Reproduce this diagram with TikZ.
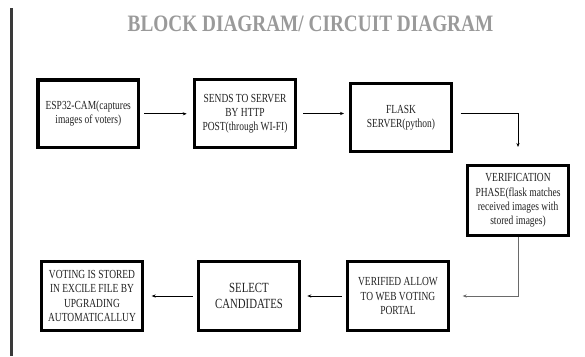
\documentclass[tikz,border=0pt]{standalone}
\usepackage{fontspec}
\setmainfont{Liberation Serif}[FakeStretch=0.77]
\newfontfamily\titlefont{Liberation Serif}[FakeStretch=0.82]
\usetikzlibrary{arrows.meta}
\definecolor{titlegray}{HTML}{9A9A9A}
\definecolor{bargray}{HTML}{3A3A3A}
\definecolor{txt}{HTML}{222222}
\definecolor{linkgray}{HTML}{6A6A6A}
\tikzset{
  blockbox/.style={draw=black, line width=3.3pt, fill=white, minimum width=100.7pt,
    minimum height=67.7pt, inner sep=1pt, align=center, text=txt,
    font=\fontsize{12.3}{14.2}\selectfont},
  arr/.style={line width=0.9pt, -{Stealth[length=4pt,width=3.2pt]}},
}
\begin{document}
\begin{tikzpicture}[x=1pt,y=-1pt]
\useasboundingbox (0,0) rectangle (585,356);
\fill[white] (0,0) rectangle (585,356);
% left bar
\draw[line width=2.5pt, bargray] (11.7,8) -- (11.7,356);
% title
\node[text=titlegray, font=\titlefont\bfseries\fontsize{23.5}{25}\selectfont, inner sep=0pt] (title) at (310.5,23.5) {BLOCK DIAGRAM/ CIRCUIT DIAGRAM};
% boxes
\node[blockbox] (b1) at (88.3,113.8) {ESP32-CAM(captures\\images of voters)};
\node[blockbox] (b2) at (245,113.5) {SENDS TO SERVER\\BY HTTP\\POST(through WI-FI)};
\node[blockbox] (b3) at (401,117.5) {FLASK\\SERVER(python)};
\node[blockbox, minimum height=69.7pt] (b4) at (518,200.5) {VERIFICATION\\PHASE(flask matches\\received images with\\stored images)};
\node[blockbox, minimum height=68.7pt] (b5) at (398,296) {VERIFIED ALLOW\\TO WEB VOTING\\PORTAL};
\node[blockbox, minimum height=68.7pt, font=\fontsize{14}{16.3}\selectfont] (b6) at (249,296) {SELECT\\CANDIDATES};
\node[blockbox, minimum height=68.7pt] (b7) at (92,296) {VOTING IS STORED\\IN EXCILE FILE BY\\UPGRADING\\AUTOMATICALLUY};
% connectors
\draw[arr, shorten <=4pt, shorten >=6.3pt] (b1.east) -- (b1.east -| b2.west);
\draw[arr, shorten <=6.3pt, shorten >=5pt] (b2.east) -- (b2.east -| b3.west);
\draw[arr, shorten <=7.7pt, shorten >=17pt] (b3.east |- b2.east) -| (b4.north);
\draw[arr, linkgray, shorten >=12.7pt] (b4.south) |- (b5.east);
\draw[arr, shorten <=4.3pt, shorten >=6.3pt] (b5.west) -- (b6.east);
\draw[arr, shorten <=4.3pt, shorten >=7.7pt] (b6.west) -- (b7.east);
\end{tikzpicture}
\end{document}
